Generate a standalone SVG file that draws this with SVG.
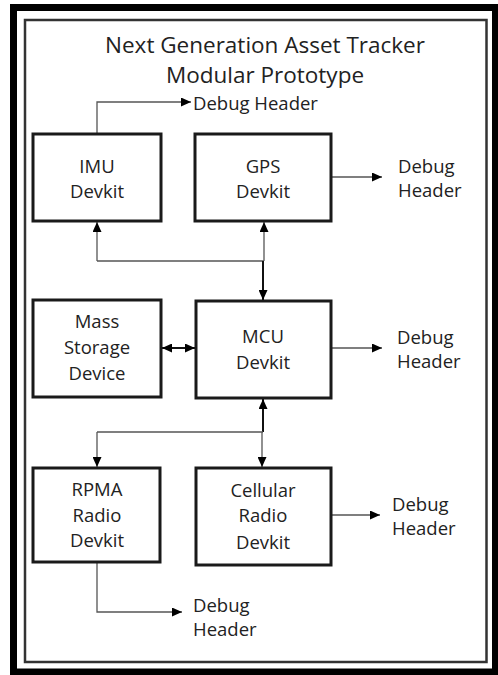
<svg xmlns="http://www.w3.org/2000/svg" width="498" height="675" viewBox="0 0 498 675">
<style>
text{font-family:"Open Sans","Noto Sans","Liberation Sans",sans-serif;font-size:18.5px;fill:#222}
.c{text-anchor:middle}
.title{font-size:22.5px}
.box{fill:#fff;stroke:#1a1a1a;stroke-width:3}
.ln{fill:none;stroke:#555;stroke-width:1.3}
.bold{fill:none;stroke:#111;stroke-width:2}
</style>
<defs>
<marker id="ah" viewBox="0 0 10 9" refX="10" refY="4.5" markerWidth="10" markerHeight="9" markerUnits="userSpaceOnUse" orient="auto-start-reverse">
<path d="M0,0 L10,4.5 L0,9 z" fill="#000"/>
</marker>
</defs>
<rect x="0" y="0" width="498" height="675" fill="#fff"/>
<rect id="outer-frame" x="13.5" y="7.5" width="482" height="664.5" fill="none" stroke="#000" stroke-width="7"/>
<rect id="inner-frame" x="25" y="20" width="461.5" height="642" fill="none" stroke="#333" stroke-width="2.5"/>
<g id="title">
<text class="c title" x="265" y="53">Next Generation Asset Tracker</text>
<text class="c title" x="265" y="83">Modular Prototype</text>
</g>
<g id="connectors">
<path class="ln" d="M97,133 V102 H191" marker-end="url(#ah)"/>
<path class="ln" d="M331,177 H382" marker-end="url(#ah)"/>
<path class="ln" d="M97,261 V222" marker-end="url(#ah)"/>
<path class="ln" d="M97,261 H264"/>
<path class="ln" d="M264,261 V222" marker-end="url(#ah)"/>
<path class="bold" d="M263,261 V300" marker-end="url(#ah)"/>
<path class="bold" d="M162,348 H195" marker-start="url(#ah)" marker-end="url(#ah)"/>
<path class="ln" d="M331,348 H382" marker-end="url(#ah)"/>
<path class="bold" d="M263,432 V399" marker-end="url(#ah)"/>
<path class="ln" d="M97,432 H263"/>
<path class="ln" d="M97,432 V467" marker-end="url(#ah)"/>
<path class="ln" d="M262,432 V467" marker-end="url(#ah)"/>
<path class="ln" d="M331,515 H380" marker-end="url(#ah)"/>
<path class="ln" d="M97,563 V612 H182" marker-end="url(#ah)"/>
</g>
<g id="imu">
<rect class="box" x="33" y="134" width="128" height="87"/>
<text class="c" x="97" y="173">IMU</text>
<text class="c" x="97" y="198">Devkit</text>
</g>
<g id="gps">
<rect class="box" x="195" y="134" width="136" height="87"/>
<text class="c" x="263" y="173">GPS</text>
<text class="c" x="263" y="198">Devkit</text>
</g>
<g id="mass-storage">
<rect class="box" x="33" y="300" width="128" height="97"/>
<text class="c" x="97" y="328">Mass</text>
<text class="c" x="97" y="354">Storage</text>
<text class="c" x="97" y="380">Device</text>
</g>
<g id="mcu">
<rect class="box" x="196" y="301" width="135" height="97"/>
<text class="c" x="263" y="343">MCU</text>
<text class="c" x="263" y="369">Devkit</text>
</g>
<g id="rpma">
<rect class="box" x="33" y="468" width="127" height="94"/>
<text class="c" x="97" y="496">RPMA</text>
<text class="c" x="97" y="522">Radio</text>
<text class="c" x="97" y="547">Devkit</text>
</g>
<g id="cellular">
<rect class="box" x="196" y="468" width="135" height="97"/>
<text class="c" x="263" y="497">Cellular</text>
<text class="c" x="263" y="522">Radio</text>
<text class="c" x="263" y="549">Devkit</text>
</g>
<g id="debug-imu">
<text x="193" y="110">Debug Header</text>
</g>
<g id="debug-gps">
<text x="398" y="173">Debug</text>
<text x="398" y="197">Header</text>
</g>
<g id="debug-mcu">
<text x="397" y="344">Debug</text>
<text x="397" y="368">Header</text>
</g>
<g id="debug-cellular">
<text x="392" y="511">Debug</text>
<text x="392" y="535">Header</text>
</g>
<g id="debug-rpma">
<text x="193" y="612">Debug</text>
<text x="193" y="636">Header</text>
</g>
</svg>
